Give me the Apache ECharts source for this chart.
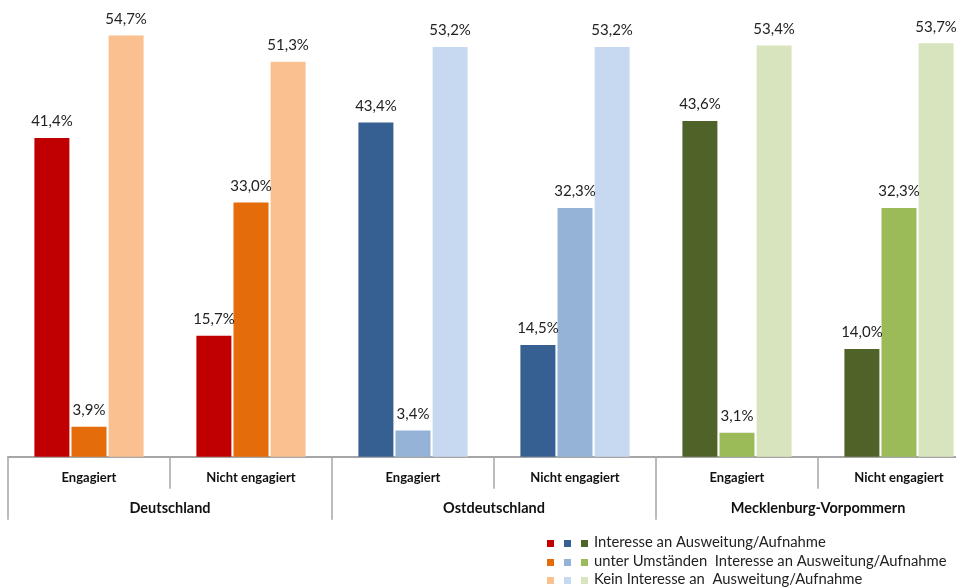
<!DOCTYPE html>
<html><head><meta charset="utf-8">
<script src="https://cdn.jsdelivr.net/npm/echarts@6/dist/echarts.min.js"></script>
<style>html,body{margin:0;padding:0;background:#fff}#c{width:956px;height:588px}</style>
</head><body><div id="c"></div>
<script>
const subCategories = ['Engagiert','Nicht engagiert','Engagiert','Nicht engagiert','Engagiert','Nicht engagiert'];
const groups = ['Deutschland','Ostdeutschland','Mecklenburg-Vorpommern'];
const seriesNames = ['Interesse an Ausweitung/Aufnahme','unter Umständen  Interesse an Ausweitung/Aufnahme','Kein Interesse an  Ausweitung/Aufnahme'];
const interesse = [41.4, 15.7, 43.4, 14.5, 43.6, 14.0];
const unterUmstaenden = [3.9, 33.0, 3.4, 32.3, 3.1, 32.3];
const keinInteresse = [54.7, 51.3, 53.2, 53.2, 53.4, 53.7];

// colours per series (rows) and per group (columns)
const palette = [
  ['#C00000','#376092','#4F6228'],
  ['#E46C0A','#95B3D7','#9BBB59'],
  ['#FAC090','#C6D9F1','#D7E4BD']
];
const FONT = 'Lato';
const allValues = [interesse, unterUmstaenden, keinInteresse];

const series = allValues.map((vals, si) => ({
  name: seriesNames[si],
  type: 'bar',
  xAxisIndex: 0,
  barWidth: 35,
  barGap: '6%',
  z: 3,
  data: vals.map((v, i) => ({ value: v, itemStyle: { color: palette[si][Math.floor(i / 2)] } })),
  label: {
    show: true, position: 'top', distance: 9,
    fontFamily: FONT, fontSize: 15, color: '#222',
    formatter: p => p.value.toFixed(1).replace('.', ',') + '%'
  }
}));

const legendGraphics = [];
const rowY = [544, 563, 581];
const sqX = [547, 564, 581];
seriesNames.forEach((n, r) => {
  palette[r].forEach((col, g) => {
    legendGraphics.push({ type: 'rect', left: sqX[g], top: rowY[r] - 4, shape: { width: 7, height: 7 }, style: { fill: col } });
  });
  legendGraphics.push({ type: 'text', left: 594, top: rowY[r] - 9, style: { text: n, font: '14.8px ' + FONT, fill: '#222' } });
});

const chart = echarts.init(document.getElementById('c'), null, { renderer: 'canvas' });
chart.setOption({
  animation: false,
  backgroundColor: '#fff',
  grid: { left: 8, top: 25.5, width: 972, height: 431.2, containLabel: false, outerBoundsMode: 'none' },
  yAxis: { type: 'value', min: 0, max: 56, show: false },
  xAxis: [
    {
      type: 'category', data: subCategories, position: 'bottom',
      axisLine: { show: true, lineStyle: { color: '#a6a6a6', width: 2 } },
      axisTick: { show: true, interval: 0, length: 32, lineStyle: { color: '#a6a6a6', width: 1.5 } },
      axisLabel: { interval: 0, margin: 15, fontFamily: FONT, fontSize: 13, fontWeight: 'bold', color: '#111' }
    },
    {
      type: 'category', data: groups, position: 'bottom',
      axisLine: { show: false },
      axisTick: { show: true, interval: 0, length: 63, lineStyle: { color: '#a6a6a6', width: 1.5 } },
      axisLabel: { interval: 0, margin: 44, fontFamily: FONT, fontSize: 14.5, fontWeight: 'bold', color: '#111' }
    }
  ],
  series: series,
  graphic: legendGraphics
});
</script></body></html>
